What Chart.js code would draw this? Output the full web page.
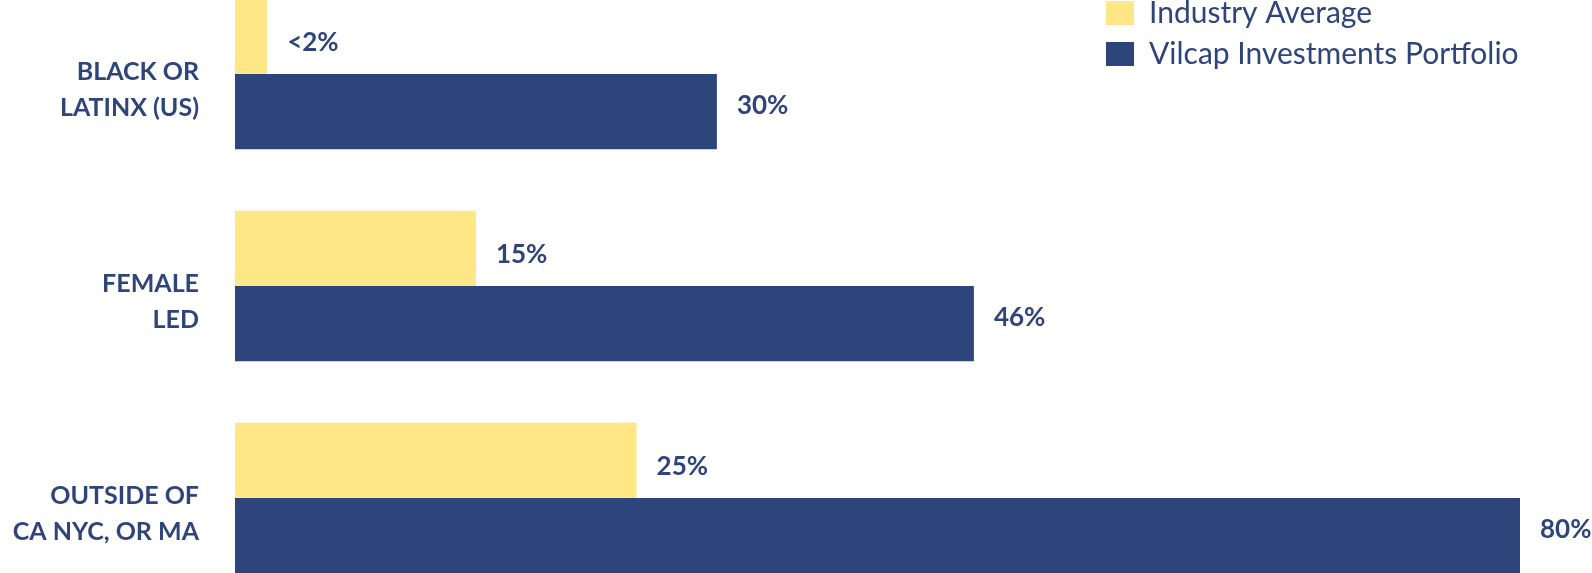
<!DOCTYPE html>
<html>
<head>
<meta charset="utf-8">
<title>Vilcap Investments Portfolio vs Industry Average</title>
<script src="https://cdn.jsdelivr.net/npm/chart.js@4"></script>
<style>
  html, body { margin: 0; padding: 0; background: #ffffff; overflow: hidden; }
  #wrap { position: relative; width: 1592px; height: 573px; overflow: hidden; }
  /* the plot runs past the top and bottom edge of the page, like the original */
  #inner { position: absolute; left: 0; top: -32px; width: 1592px; height: 636px; }
</style>
</head>
<body>
<div id="wrap"><div id="inner"><canvas id="chart"></canvas></div></div>
<script>
// Chart data
const categories = [
  ['BLACK OR', 'LATINX (US)'],
  ['FEMALE', 'LED'],
  ['OUTSIDE OF', 'CA NYC, OR MA']
];
const industryAverage = [2, 15, 25];
const vilcapPortfolio = [30, 46, 80];
const industryLabels = ['<2%', '15%', '25%'];
const vilcapLabels = ['30%', '46%', '80%'];

const NAVY = '#2e457b';
const YELLOW = '#fee784';
const SHIFT = 32; // canvas starts this far above the page

// Draw the value text just past the end of each bar
const valueLabels = {
  id: 'valueLabels',
  afterDatasetsDraw(chart) {
    const ctx = chart.ctx;
    const texts = [industryLabels, vilcapLabels];
    const nudge = [6, -6]; // yellow labels sit a bit low, navy ones a bit high
    ctx.save();
    ctx.font = 'bold 26px Lato';
    ctx.fillStyle = NAVY;
    ctx.textBaseline = 'middle';
    ctx.textAlign = 'left';
    chart.data.datasets.forEach((ds, i) => {
      const meta = chart.getDatasetMeta(i);
      meta.data.forEach((bar, j) => {
        ctx.fillText(texts[i][j], bar.x + 20, bar.y + nudge[i]);
      });
    });
    ctx.restore();
  }
};

// Legend in the top right corner
const cornerLegend = {
  id: 'cornerLegend',
  afterDraw(chart) {
    const ctx = chart.ctx;
    ctx.save();
    ctx.font = '30px Lato';
    ctx.textBaseline = 'middle';
    chart.data.datasets.forEach((ds, i) => {
      const y = SHIFT + 1 + i * 41;
      ctx.fillStyle = ds.backgroundColor;
      ctx.fillRect(1106, y, 28, 24);
      ctx.fillStyle = NAVY;
      ctx.fillText(ds.label, 1149, y + 12);
    });
    ctx.restore();
  }
};

new Chart(document.getElementById('chart'), {
  type: 'bar',
  data: {
    labels: categories,
    datasets: [
      {
        label: 'Industry Average',
        data: industryAverage,
        backgroundColor: YELLOW
      },
      {
        label: 'Vilcap Investments Portfolio',
        data: vilcapPortfolio,
        backgroundColor: NAVY
      }
    ]
  },
  options: {
    indexAxis: 'y',
    responsive: true,
    maintainAspectRatio: false,
    animation: false,
    categoryPercentage: 0.71,
    barPercentage: 1,
    layout: {
      padding: { top: 0, bottom: 0, left: 0, right: 72 }
    },
    plugins: {
      legend: { display: false },
      tooltip: { enabled: false }
    },
    scales: {
      x: {
        display: false,
        min: 0,
        max: 80
      },
      y: {
        grid: { display: false, drawTicks: false },
        border: { display: false },
        ticks: {
          color: NAVY,
          padding: 36,
          labelOffset: 16,
          font: { family: 'Lato', size: 25, weight: 'bold', lineHeight: 1.45 }
        },
        afterFit(scale) {
          scale.width = 235;
          // let the bars fill the whole height, labels may hang over
          scale.paddingTop = 0;
          scale.paddingBottom = 0;
        }
      }
    }
  },
  plugins: [valueLabels, cornerLegend]
});
</script>
</body>
</html>
